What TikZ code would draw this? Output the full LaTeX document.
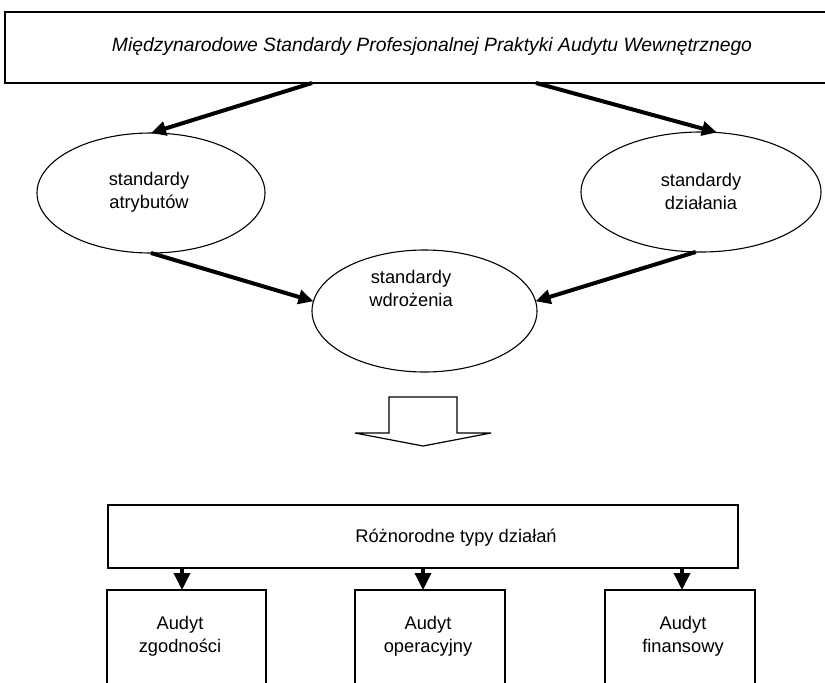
\documentclass[tikz,border=0pt]{standalone}
\usepackage{fontspec}
\setmainfont{Liberation Sans}
\usetikzlibrary{arrows.meta,shapes.geometric}

\begin{document}
\begin{tikzpicture}[x=1pt,y=-1pt,
  box/.style={draw, line width=1.3pt, inner sep=0pt, outer sep=0pt},
  oval/.style={draw, ellipse, line width=1.1pt, inner sep=0pt, outer sep=0pt},
  lbl/.style={font=\fontsize{18.3}{23}\selectfont, align=center, inner sep=0pt},
  fat/.style={line width=4pt, -{Triangle[length=15pt,width=14pt]}},
  vfat/.style={line width=3.5pt, -{Triangle[length=17pt,width=16pt]}},
]
\clip (0,0) rectangle (825,683);

% top banner
\node[box, minimum width=840pt, minimum height=71pt] (top) at (425,47.5) {};
\node[lbl, font=\fontsize{19.3}{23}\selectfont\itshape] (toptxt) at (432,47) {Międzynarodowe Standardy Profesjonalnej Praktyki Audytu Wewnętrznego};

% the three groups of standards
\node[oval, minimum width=228pt, minimum height=120pt] (attr) at (151,193) {};
\node[lbl] (attrtxt) at (149,192) {standardy\\atrybutów};
\node[oval, minimum width=240pt, minimum height=120pt] (act) at (701,192) {};
\node[lbl] (acttxt) at (701,191) {standardy\\działania};
\node[oval, minimum width=225pt, minimum height=122pt] (impl) at (424.5,311) {};
\node[lbl] (impltxt) at (411,288) {standardy\\wdrożenia};

\coordinate (ts1) at ([xshift=-113pt]top.south);
\coordinate (ts2) at ([xshift=111pt]top.south);
\draw[fat] (ts1) -- (attr.north);
\draw[fat] (ts2) -- (act.75);
\draw[fat] (attr.south) -- (impl.175);
\draw[fat] (act.265) -- (impl.5);

% hollow block arrow
\draw[line width=1.2pt, line join=miter] (389,433) -- (389,397) -- (457,397) -- (457,433)
  -- (491,433) -- (423,446) -- (355,433) -- cycle;

% kinds of activities
\node[box, minimum width=630pt, minimum height=63pt] (kinds) at (423,536.5) {};
\node[lbl] (kindstxt) at (456,538) {Różnorodne typy działań};

\node[box, minimum width=159pt, minimum height=120pt] (bx1) at (186.5,650) {};
\node[lbl] (bx1txt) at (180,636) {Audyt\\zgodności};
\node[box, minimum width=150pt, minimum height=120pt] (bx2) at (430,650) {};
\node[lbl] (bx2txt) at (428,636) {Audyt\\operacyjny};
\node[box, minimum width=150pt, minimum height=120pt] (bx3) at (680,650) {};
\node[lbl] (bx3txt) at (683,636) {Audyt\\finansowy};

\coordinate (v1) at ([xshift=-4.5pt]bx1.north);
\coordinate (v2) at ([xshift=-7pt]bx2.north);
\coordinate (v3) at ([xshift=2pt]bx3.north);
\draw[vfat] (v1 |- kinds.south) -- (v1);
\draw[vfat] (v2 |- kinds.south) -- (v2);
\draw[vfat] (v3 |- kinds.south) -- (v3);
\end{tikzpicture}
\end{document}
